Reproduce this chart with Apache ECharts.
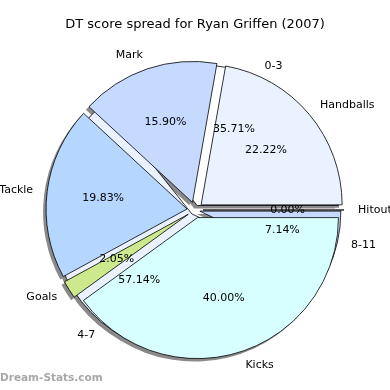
<!DOCTYPE html>
<html>
<head>
<meta charset="utf-8">
<script src="https://cdn.jsdelivr.net/npm/echarts@6/dist/echarts.min.js"></script>
<style>html,body{margin:0;padding:0;background:#fff}#c{width:390px;height:390px}</style>
</head>
<body>
<div id="c"></div>
<script>
// Main pie: stat spread (percent of DT score)
const statNames = ['Handballs', 'Mark', 'Tackle', 'Goals', 'Kicks', 'Hitouts'];
const statValues = [22.22, 15.90, 19.83, 2.05, 40.00, 0.00];
const statColors = ['#eaf2ff', '#c6d9ff', '#b4d6ff', '#cce98d', '#d8ffff', '#c6d9ff'];
// Second pie: score range spread
const rangeNames = ['0-3', '4-7', '8-11'];
const rangeValues = [35.71, 57.14, 7.14];
const rangeColors = ['#ffffff', '#eaf2ff', '#c6d9ff'];

const CX = 195, CY = 210, R = 141;
const FONT = 'DejaVu Sans';

function mk(names, vals, colors, sel) {
  return names.map((n, i) => ({ name: n, value: vals[i], selected: sel, itemStyle: colors ? { color: colors[i] } : undefined }));
}
const base = {
  type: 'pie', startAngle: 0, clockwise: false, selectedMode: 'multiple',
  avoidLabelOverlap: false, silent: true, animation: false,
  emphasis: { disabled: true }, minAngle: 0
};
function shadowSeries(names, vals, off, z) {
  return Object.assign({}, base, {
    z: z, center: [CX - 3, CY + 3], radius: [0, R], selectedOffset: off,
    data: mk(names, vals, null, true),
    itemStyle: { color: '#8a8a8a', borderWidth: 0 },
    label: { show: false }, labelLine: { show: false }
  });
}
function pieSeries(names, vals, colors, off, z) {
  return Object.assign({}, base, {
    z: z, center: [CX, CY], radius: [0, R], selectedOffset: off,
    data: mk(names, vals, colors, true),
    itemStyle: { borderColor: '#000', borderWidth: 0.8 },
    label: { show: true, position: 'outside', formatter: '{b}', color: '#000',
             fontFamily: FONT, fontSize: 11, distanceToLabelLine: 0 },
    labelLine: { show: false, length: R * 0.1, length2: 0 }
  });
}
function pctSeries(names, vals, off, z) {
  return Object.assign({}, base, {
    z: z, center: [CX, CY], radius: [2 * (R * 0.6 - 3) - R, R], selectedOffset: off,
    data: mk(names, vals, null, true),
    itemStyle: { color: 'rgba(0,0,0,0)', borderWidth: 0 },
    label: { show: true, position: 'inside', formatter: p => p.value.toFixed(2) + '%', color: '#000',
             fontFamily: FONT, fontSize: 11, rotate: 0 },
    labelLine: { show: false }
  });
}

const chart = echarts.init(document.getElementById('c'), null, { renderer: 'canvas' });
chart.setOption({
  backgroundColor: '#fff',
  title: [
    { text: 'DT score spread for Ryan Griffen (2007)', left: 'center', top: 13,
      textStyle: { fontFamily: FONT, fontSize: 13, fontWeight: 'normal', color: '#000' } },
    { text: 'Dream-Stats.com', left: 0, top: 373, padding: 0,
      textStyle: { fontFamily: FONT, fontSize: 10.5, fontWeight: 'bold', color: '#a8a8a8' } }
  ],
  series: [
    shadowSeries(rangeNames, rangeValues, 5, 1),
    shadowSeries(statNames, statValues, 8, 2),
    pieSeries(rangeNames, rangeValues, rangeColors, 5, 3),
    pieSeries(statNames, statValues, statColors, 8, 4),
    pctSeries(rangeNames, rangeValues, 5, 5),
    pctSeries(statNames, statValues, 8, 6)
  ]
});
</script>
</body>
</html>
